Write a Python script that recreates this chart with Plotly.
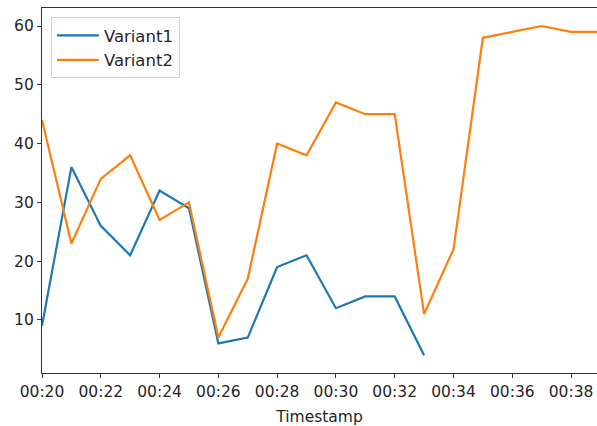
import pandas as pd
import plotly.graph_objects as go

# Data (one point per minute)
timestamps = pd.date_range("2021-01-01 00:20", "2021-01-01 00:39", freq="1min")
variant1 = [9, 36, 26, 21, 32, 29, 6, 7, 19, 21, 12, 14, 14, 4,
            None, None, None, None, None, None]
variant2 = [44, 23, 34, 38, 27, 30, 7, 17, 40, 38, 47, 45, 45, 11,
            22, 58, 59, 60, 59, 59]

font = dict(family="DejaVu Sans", size=15.5, color="#262626")
legend_font = dict(family="DejaVu Sans", size=16.5, color="#262626")

fig = go.Figure()
fig.add_trace(go.Scatter(x=timestamps, y=variant1, mode="lines", name="Variant1",
                         line=dict(color="#1f77b4", width=2.2)))
fig.add_trace(go.Scatter(x=timestamps, y=variant2, mode="lines", name="Variant2",
                         line=dict(color="#ff7f0e", width=2.2)))

fig.update_layout(
    width=597, height=426,
    margin=dict(l=42, r=0, t=8, b=53),
    plot_bgcolor="white", paper_bgcolor="white",
    font=font,
    showlegend=True,
    legend=dict(x=0.016, y=0.975, xanchor="left", yanchor="top",
                bordercolor="#d0d0d0", borderwidth=1, bgcolor="white",
                itemwidth=42, font=legend_font),
    xaxis=dict(
        type="date", automargin=False,
        range=["2021-01-01 00:20:00", "2021-01-01 00:38:53"],
        tickformat="%H:%M", dtick=120000,
        tick0="2021-01-01 00:20:00",
        showgrid=False, zeroline=False,
        showline=True, linecolor="#333", linewidth=1.2, mirror=True,
        ticks="outside", ticklen=4, tickcolor="#333",
        title=dict(text="Timestamp", font=font),
    ),
    yaxis=dict(
        automargin=False,
        range=[0.97, 63.07],
        tickvals=[10, 20, 30, 40, 50, 60],
        showgrid=False, zeroline=False,
        showline=True, linecolor="#333", linewidth=1.2,
        ticks="outside", ticklen=4, tickcolor="#333",
    ),
)

# drop the default body margin so the figure fills the window
fig.write_html("out.html",
               config={"displayModeBar": False},
               post_script="document.body.style.margin='0';"
                           "document.body.style.overflow='hidden';")
